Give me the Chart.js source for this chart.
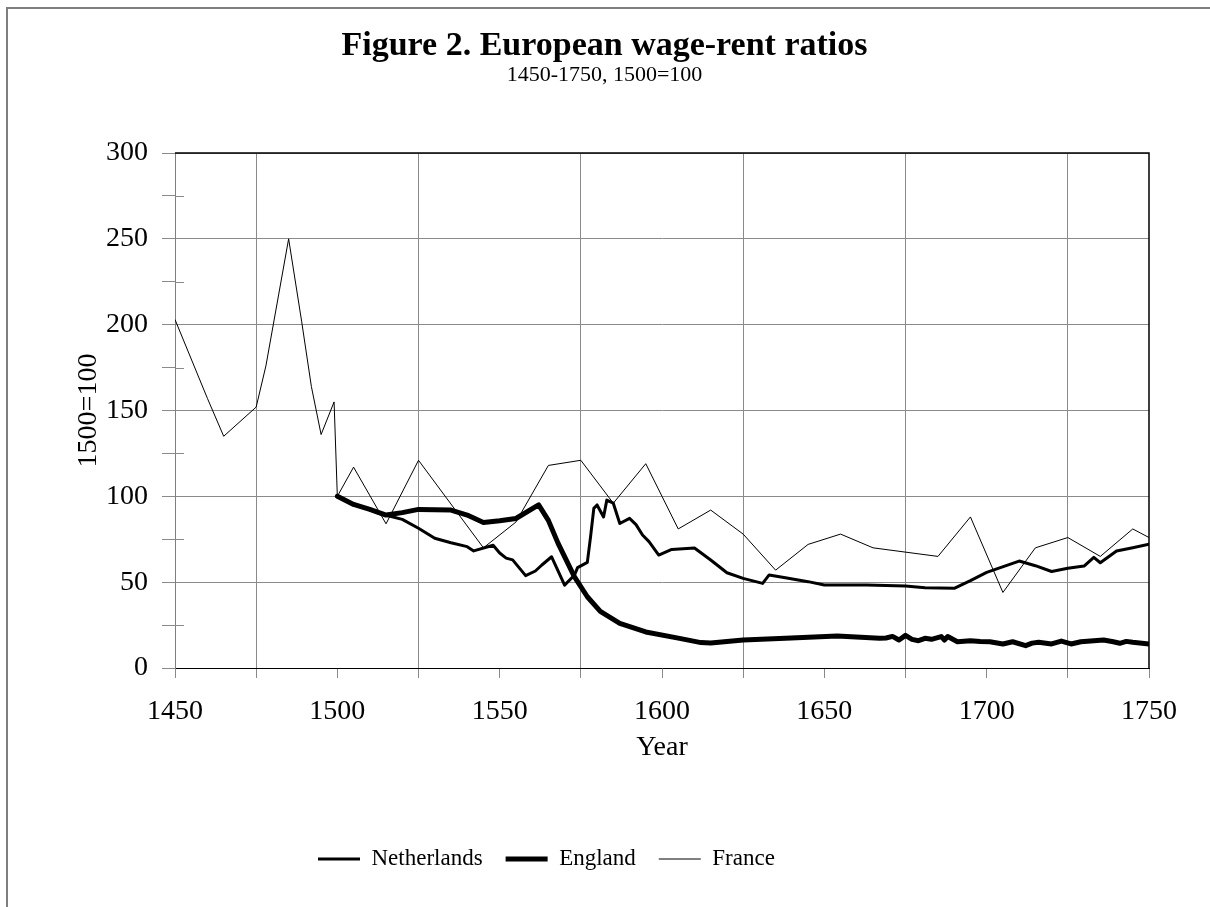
<!DOCTYPE html>
<html>
<head>
<meta charset="utf-8">
<script src="https://cdn.jsdelivr.net/npm/chart.js@4.4.1/dist/chart.umd.min.js"></script>
<style>
html,body{margin:0;padding:0;background:#fff;}
#wrap{width:1210px;height:907px;position:relative;}
canvas{display:block;}
</style>
</head>
<body>
<div id="wrap"><canvas id="c" width="1210" height="907"></canvas></div>
<script>
// ---- Data ----
const titleText = 'Figure 2. European wage-rent ratios';
const subtitleText = '1450-1750, 1500=100';
const xAxisTitle = 'Year';
const yAxisTitle = '1500=100';
const seriesNames = ['Netherlands', 'England', 'France'];
const xTickLabels = [1450, 1500, 1550, 1600, 1650, 1700, 1750];
const yTickLabels = [0, 50, 100, 150, 200, 250, 300];

const netherlandsYears = [1500,1505,1509,1513,1516,1520,1525,1530,1535,1540,1542,1548,1550,1552,1554,1558,1561,1563,1566,1570,1573,1574,1577,1578,1579,1580,1582,1583,1585,1587,1590,1592,1594,1596,1599,1603,1610,1615,1620,1625,1631,1633,1638,1645,1650,1663,1675,1681,1690,1695,1700,1710,1715,1720,1725,1730,1733,1735,1740,1745,1750];
const netherlandsValues = [100,95,93,90,88.5,86.6,81.4,75.6,73,70.7,68.2,71.5,67,64,63,53.8,56.5,60,64.8,48.3,54,58.5,61.5,76.5,93,95,88,97.8,96,84.2,87.2,83.5,77.5,73.6,65.8,69.1,69.9,62.9,55.5,52.2,49.3,54.2,52.6,50.3,48.3,48.3,47.8,46.8,46.4,50.9,55.7,62.3,59.6,56.2,58.1,59.4,64.5,61.3,68.2,70.1,72.1];

const englandYears = [1500,1505,1510,1515,1520,1525,1535,1540,1545,1550,1555,1562,1565,1568,1573,1577,1581,1587,1595,1605,1612,1615,1625,1638,1654,1667,1669,1671,1673,1675,1677,1679,1681,1683,1686,1687,1688,1691,1695,1698,1701,1705,1708,1712,1714,1716,1720,1723,1726,1729,1733,1736,1739,1741,1743,1745,1750];
const englandValues = [100,95.3,92.4,89.1,90.5,92.4,92,89.1,84.8,85.8,87.1,95,86,72.6,53.2,41.5,33,26,21,17.4,14.8,14.5,16.3,17.3,18.6,17.3,17.5,18.4,16.3,19,16.7,15.9,17.3,16.7,18.3,16.3,18.3,15.3,15.9,15.5,15.3,14,15.3,13,14.5,15,14,15.7,14,15.3,15.9,16.3,15.3,14.4,15.5,15,14];

const franceYears = [1450,1455,1460,1465,1475,1478,1485,1489,1492,1495,1499,1500,1505,1515,1525,1545,1555,1565,1575,1585,1595,1605,1615,1625,1635,1645,1655,1665,1685,1695,1705,1715,1725,1735,1745,1750];
const franceValues = [203,180,157,135,152,176,250,202,164,136,155,100,117,84,121,70,85,118,121,96,119,81,92,78,57,72,78,70,65,88,44,70,76,65,81,76];

// ---- Build datasets ----
function toPoints(xs, ys){ return xs.map((x,i)=>({x:x, y:ys[i]})); }

const FONT = "'Liberation Serif', 'Times New Roman', serif";
const GRID = '#8a8a8a';

const framePlugin = {
  id: 'frame',
  beforeDraw(chart){
    const ctx = chart.ctx;
    ctx.save();
    ctx.fillStyle = '#ffffff';
    ctx.fillRect(0,0,chart.width,chart.height);
    ctx.strokeStyle = '#7f7f7f';
    ctx.lineWidth = 2;
    ctx.beginPath();
    ctx.moveTo(7, chart.height);
    ctx.lineTo(7, 8);
    ctx.lineTo(chart.width, 8);
    ctx.stroke();
    ctx.restore();
  },
  beforeDatasetsDraw(chart){
    const {left, top, right, bottom} = chart.chartArea;
    const ctx = chart.ctx;
    ctx.save();
    ctx.strokeStyle = '#000';
    ctx.lineWidth = 1.5;
    ctx.beginPath();
    ctx.moveTo(left, top);
    ctx.lineTo(right, top);
    ctx.lineTo(right, bottom);
    ctx.stroke();
    // minor y ticks cross the axis slightly into the plot
    const ys = chart.scales.y;
    ctx.strokeStyle = GRID;
    ctx.lineWidth = 1;
    ctx.beginPath();
    ys.ticks.forEach(t => {
      const py = Math.round(ys.getPixelForValue(t.value)) + 0.5;
      if (t.value % 50 !== 0) { ctx.moveTo(left, py); ctx.lineTo(left + 9, py); }
    });
    ctx.stroke();
    ctx.restore();
  }
};

const legendShift = {
  id: 'legendShift',
  afterLayout(chart){
    const lg = chart.legend;
    if (lg) { lg.left = 295; }
  }
};

new Chart(document.getElementById('c'), {
  type: 'line',
  data: {
    datasets: [
      { label: seriesNames[0], data: toPoints(netherlandsYears, netherlandsValues), borderColor:'#000', backgroundColor:'#000', borderWidth:3, pointRadius:0, tension:0, borderJoinStyle:'round', borderCapStyle:'round' },
      { label: seriesNames[1], data: toPoints(englandYears, englandValues), borderColor:'#000', backgroundColor:'#000', borderWidth:5, pointRadius:0, tension:0, borderJoinStyle:'round', borderCapStyle:'round' },
      { label: seriesNames[2], data: toPoints(franceYears, franceValues), borderColor:'#000', backgroundColor:'#000', borderWidth:1, pointRadius:0, tension:0 }
    ]
  },
  options: {
    responsive: false,
    animation: false,
    devicePixelRatio: 1,
    layout: { padding: { left: 60, right: 61, top: 0, bottom: 26.5 } },
    plugins: {
      tooltip: { enabled: false },
      title: { display: true, text: titleText, color:'#000', font: { family: FONT, size: 34, weight: 'bold', lineHeight: 1.0 }, padding: { top: 29, bottom: 0 } },
      subtitle: { display: true, text: subtitleText, color:'#000', font: { family: FONT, size: 22, lineHeight: 1.0 }, padding: { top: 1, bottom: 67 } },
      legend: {
        position: 'bottom', align: 'start',
        labels: { color:'#000', font: { family: FONT, size: 23 }, usePointStyle: true, pointStyle: 'line', pointStyleWidth: 42, padding: 23 }
      }
    },
    scales: {
      x: {
        type: 'linear', min: 1450, max: 1750,
        afterFit(scale){ scale.height = 156.5; },
        ticks: { stepSize: 25, autoSkip: false, maxRotation: 0, padding: 17, color:'#000', font: { family: FONT, size: 28 },
          callback: (v) => xTickLabels.includes(v) ? String(v) : '' },
        grid: { drawTicks: true, tickLength: 10, color: (c) => (c.tick && c.tick.value % 50 !== 0) ? GRID : 'rgba(0,0,0,0)', tickColor: GRID, lineWidth: 1 },
        border: { display: true, color: '#000', width: 1 },
        title: { display: true, text: xAxisTitle, color:'#000', font: { family: FONT, size: 28 }, padding: { top: 0, bottom: 60 } }
      },
      y: {
        min: 0, max: 300,
        afterFit(scale){ scale.width = 115; },
        ticks: { stepSize: 25, autoSkip: false, padding: 14, color:'#000', font: { family: FONT, size: 28 },
          callback: (v) => yTickLabels.includes(v) ? String(v) : '' },
        grid: { drawTicks: true, tickLength: 13, color: (c) => (c.tick && c.tick.value % 50 === 0 && c.tick.value !== 0) ? GRID : 'rgba(0,0,0,0)', tickColor: GRID, lineWidth: 1 },
        border: { display: true, color: '#7f7f7f', width: 1 },
        title: { display: true, text: yAxisTitle, color:'#000', font: { family: FONT, size: 28 }, padding: { top: 12, bottom: 0 } }
      }
    }
  },
  plugins: [framePlugin, legendShift]
});
</script>
</body>
</html>
